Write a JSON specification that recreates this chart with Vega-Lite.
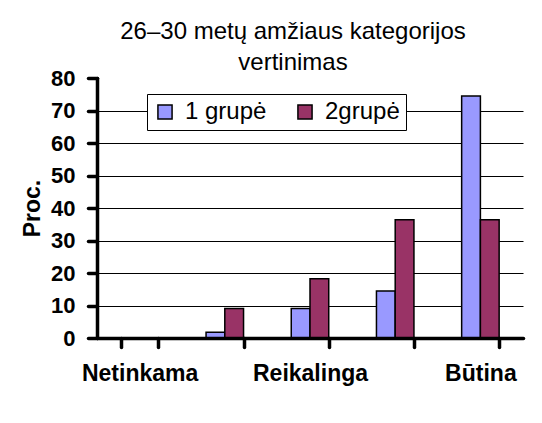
{
  "$schema": "https://vega.github.io/schema/vega-lite/v6.json",
  "width": 426,
  "height": 260,
  "autosize": {"type": "none"},
  "padding": {"left": 97, "top": 78, "right": 19, "bottom": 85},
  "background": "white",
  "title": {
    "text": ["26–30 metų amžiaus kategorijos", "vertinimas"],
    "font": "Liberation Sans",
    "fontSize": 24,
    "fontWeight": "normal",
    "color": "black",
    "anchor": "middle",
    "dx": -17,
    "dy": 11,
    "offset": 3,
    "lineHeight": 31
  },
  "data": {
    "values": [
      {"kategorija": "Netinkama", "grupe": "1 grupė", "proc": 0},
      {"kategorija": "Netinkama", "grupe": "2grupė", "proc": 0},
      {"kategorija": "Mažai reikalinga", "grupe": "1 grupė", "proc": 1.8},
      {"kategorija": "Mažai reikalinga", "grupe": "2grupė", "proc": 9.1},
      {"kategorija": "Reikalinga", "grupe": "1 grupė", "proc": 9.1},
      {"kategorija": "Reikalinga", "grupe": "2grupė", "proc": 18.2},
      {"kategorija": "Labai reikalinga", "grupe": "1 grupė", "proc": 14.5},
      {"kategorija": "Labai reikalinga", "grupe": "2grupė", "proc": 36.4},
      {"kategorija": "Būtina", "grupe": "1 grupė", "proc": 74.5},
      {"kategorija": "Būtina", "grupe": "2grupė", "proc": 36.4}
    ]
  },
  "mark": {"type": "bar", "stroke": "black", "strokeWidth": 1.5},
  "encoding": {
    "x": {
      "field": "kategorija",
      "type": "nominal",
      "sort": ["Netinkama", "Mažai reikalinga", "Reikalinga", "Labai reikalinga", "Būtina"],
      "scale": {"paddingInner": 0.56, "paddingOuter": 0.28},
      "axis": {
        "title": null,
        "zindex": 1,
        "labelAngle": 0,
        "labelExpr": "indexof(['Netinkama','Reikalinga','Būtina'], datum.value) >= 0 ? datum.value : ''",
        "labelFont": "Liberation Sans",
        "labelFontSize": 23,
        "labelFontWeight": "bold",
        "labelColor": "black",
        "labelPadding": 15,
        "tickBand": "extent",
        "ticks": true,
        "tickSize": 9,
        "tickWidth": 3.5,
        "tickColor": "black",
        "tickCap": "round",
        "domainColor": "black",
        "domainWidth": 3.5,
        "domainCap": "round",
        "grid": false
      }
    },
    "xOffset": {"field": "grupe", "type": "nominal"},
    "y": {
      "field": "proc",
      "type": "quantitative",
      "scale": {"domain": [0, 80], "nice": false},
      "axis": {
        "title": "Proc.",
        "titleFont": "Liberation Sans",
        "titleFontSize": 23,
        "titleFontWeight": "bold",
        "titleColor": "black",
        "titlePadding": 6,
        "values": [0, 10, 20, 30, 40, 50, 60, 70, 80],
        "labelFont": "Liberation Sans",
        "labelFontSize": 22,
        "labelFontWeight": "bold",
        "labelColor": "black",
        "labelPadding": 13,
        "ticks": true,
        "tickSize": 9,
        "tickWidth": 3.5,
        "tickColor": "black",
        "tickCap": "round",
        "domainColor": "black",
        "domainWidth": 3.5,
        "domainCap": "round",
        "grid": true,
        "gridColor": "black",
        "gridWidth": 1,
        "gridOpacity": {"condition": {"test": "datum.value == 80", "value": 0}, "value": 1}
      }
    },
    "color": {
      "field": "grupe",
      "type": "nominal",
      "scale": {"domain": ["1 grupė", "2grupė"], "range": ["#9999FF", "#993366"]},
      "legend": {
        "title": null,
        "orient": "none",
        "legendX": 50,
        "legendY": 16,
        "direction": "horizontal",
        "fillColor": "white",
        "strokeColor": "black",
        "padding": 6,
        "symbolType": "square",
        "symbolSize": 200,
        "symbolStrokeColor": "black",
        "symbolStrokeWidth": 1.5,
        "symbolOpacity": 1,
        "labelFont": "Liberation Sans",
        "labelFontSize": 24,
        "labelColor": "black",
        "labelOffset": 8,
        "columnPadding": 26
      }
    }
  },
  "config": {
    "view": {"stroke": null}
  }
}
